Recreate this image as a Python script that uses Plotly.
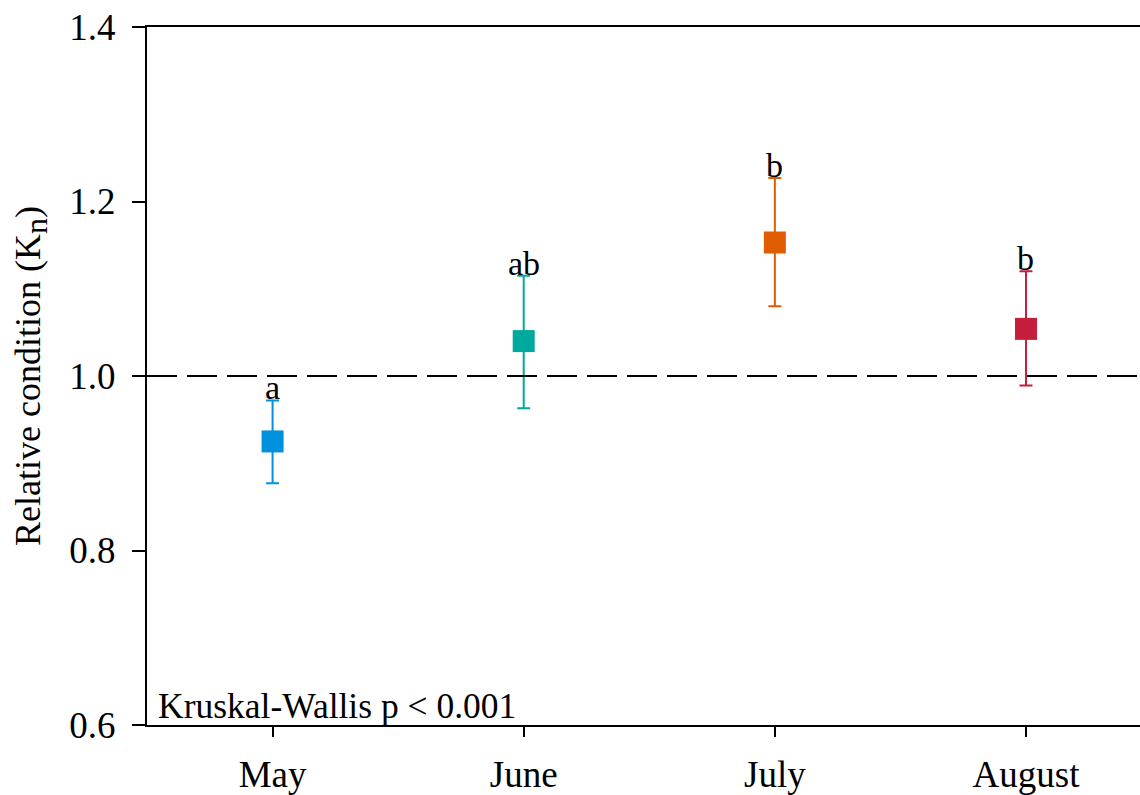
import plotly.graph_objects as go

months = ["May", "June", "July", "August"]
kn_mean = [0.925, 1.040, 1.153, 1.054]
kn_upper = [0.972, 1.115, 1.227, 1.120]
kn_lower = [0.877, 0.963, 1.080, 0.989]
letters = ["a", "ab", "b", "b"]
colors = ["#0090DC", "#00A99D", "#E05C00", "#C51D3C"]
y_ticks = [0.6, 0.8, 1.0, 1.2, 1.4]
stat_text = "Kruskal-Wallis p < 0.001"

FONT = "Liberation Serif"

fig = go.Figure()
for i, m in enumerate(months):
    fig.add_trace(go.Scatter(
        x=[m], y=[kn_mean[i]], mode="markers",
        marker=dict(symbol="square", size=22, color=colors[i], line=dict(width=0)),
        error_y=dict(type="data", symmetric=False,
                     array=[kn_upper[i] - kn_mean[i]],
                     arrayminus=[kn_mean[i] - kn_lower[i]],
                     color=colors[i], thickness=2, width=6.5),
        showlegend=False, hoverinfo="skip",
    ))
    fig.add_annotation(x=m, y=kn_upper[i], text=letters[i], showarrow=False,
                       xanchor="center", yanchor="bottom", yshift=-8,
                       font=dict(family=FONT, size=34, color="black"))

fig.add_hline(y=1.0, line=dict(color="black", width=2, dash="30px,10px"), layer="above")

fig.add_annotation(xref="paper", yref="paper", x=0.009, y=0, text=stat_text,
                   showarrow=False, xanchor="left", yanchor="bottom", yshift=-3,
                   font=dict(family=FONT, size=35.5, color="black"))

fig.update_layout(
    width=1140, height=795,
    margin=dict(l=147, r=0, t=27, b=63, pad=0),
    plot_bgcolor="white", paper_bgcolor="white",
    font=dict(family=FONT, size=36, color="black"),
    xaxis=dict(type="category", categoryorder="array", categoryarray=months,
               range=[-0.5, 3.454], showline=True, linecolor="black", linewidth=2,
               mirror=True, ticks="outside", ticklen=10, tickwidth=2, tickcolor="black",
               showgrid=False, zeroline=False, ticklabelstandoff=6,
               tickfont=dict(family=FONT, size=37, color="black")),
    yaxis=dict(range=[0.6, 1.4], tickvals=y_ticks,
               ticktext=[f"{v:.1f}" for v in y_ticks],
               showline=True, linecolor="black", linewidth=2, mirror=False,
               ticks="outside", ticklen=13, tickwidth=2, tickcolor="black",
               showgrid=False, zeroline=False, ticklabelstandoff=9,
               tickfont=dict(family=FONT, size=37, color="black"),
               title=dict(text="Relative condition (K<sub><span style='font-size:32px'>n</span></sub>)",
                          standoff=18,
                          font=dict(family=FONT, size=36, color="black"))),
)

fig.write_html("out.html")
